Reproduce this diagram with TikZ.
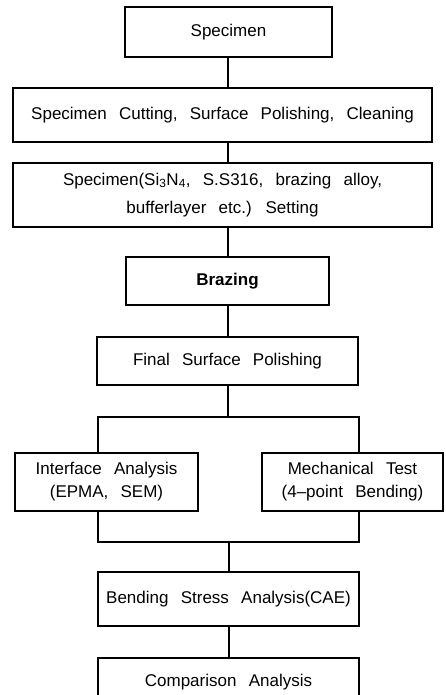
\documentclass[tikz,border=0pt]{standalone}
\usepackage{fontspec}
\setmainfont{Liberation Sans}
\newcommand\widespaces{\spaceskip=0.72em plus 0.1em minus 0.05em\relax}
\begin{document}
\begin{tikzpicture}[x=1pt,y=-1pt,
  box/.style={draw=black, line width=1.6pt, inner sep=0pt, align=center,
    font=\fontsize{17}{23}\selectfont\widespaces},
  conn/.style={draw=black, line width=1.6pt}]
\useasboundingbox[fill=white] (0,0) rectangle (445,695);
\begin{scope}
\clip (0,0) rectangle (445,695);
\node[box, minimum width=207pt, minimum height=50pt] (b1) at (228.5,32) {Specimen};
\node[box, minimum width=419pt, minimum height=54pt] (b2) at (222.5,115) {Specimen Cutting, Surface Polishing, Cleaning};
\node[box, minimum width=419pt, minimum height=64pt] (b3) at (222.5,195) {Specimen(Si\textsubscript{3}N\textsubscript{4}, S.S316, brazing alloy,\\[5pt]bufferlayer etc.) Setting};
\node[box, minimum width=203pt, minimum height=48pt, font=\fontsize{17}{23}\selectfont\bfseries\widespaces] (b4) at (227.5,281) {Brazing};
\node[box, minimum width=261pt, minimum height=48pt] (b5) at (227.5,361) {Final Surface Polishing};
\node[box, minimum width=183pt, minimum height=58pt] (b6) at (106.5,482) {Interface Analysis\\(EPMA, SEM)};
\node[box, minimum width=181pt, minimum height=58pt] (b7) at (352.5,482) {Mechanical Test\\(4–point Bending)};
\node[box, minimum width=261pt, minimum height=54pt] (b8) at (228.5,599) {Bending Stress Analysis(CAE)};
\node[box, minimum width=261pt, minimum height=48pt, anchor=north] (b9) at (228.5,657) {Comparison Analysis};
\end{scope}
\coordinate (ax) at (228,0);
\coordinate (j1) at (228,417);
\coordinate (jl1) at (98,417);
\coordinate (jr1) at (359,417);
\coordinate (j2) at (229,542);
\coordinate (jl2) at (98,542);
\coordinate (jr2) at (359,542);
\draw[conn] (b1.south -| ax) -- (b2.north -| ax);
\draw[conn] (b2.south -| ax) -- (b3.north -| ax);
\draw[conn] (b3.south -| ax) -- (b4.north -| ax);
\draw[conn] (b4.south -| ax) -- (b5.north -| ax);
\draw[conn] (b5.south -| j1) -- (j1);
\draw[conn] (b6.north -| jl1) -- (jl1) -- (jr1) -- (b7.north -| jr1);
\draw[conn] (b6.south -| jl2) -- (jl2) -- (jr2) -- (b7.south -| jr2);
\draw[conn] (j2) -- (b8.north -| j2);
\draw[conn] (b8.south -| j2) -- (b9.north -| j2);
\end{tikzpicture}
\end{document}
